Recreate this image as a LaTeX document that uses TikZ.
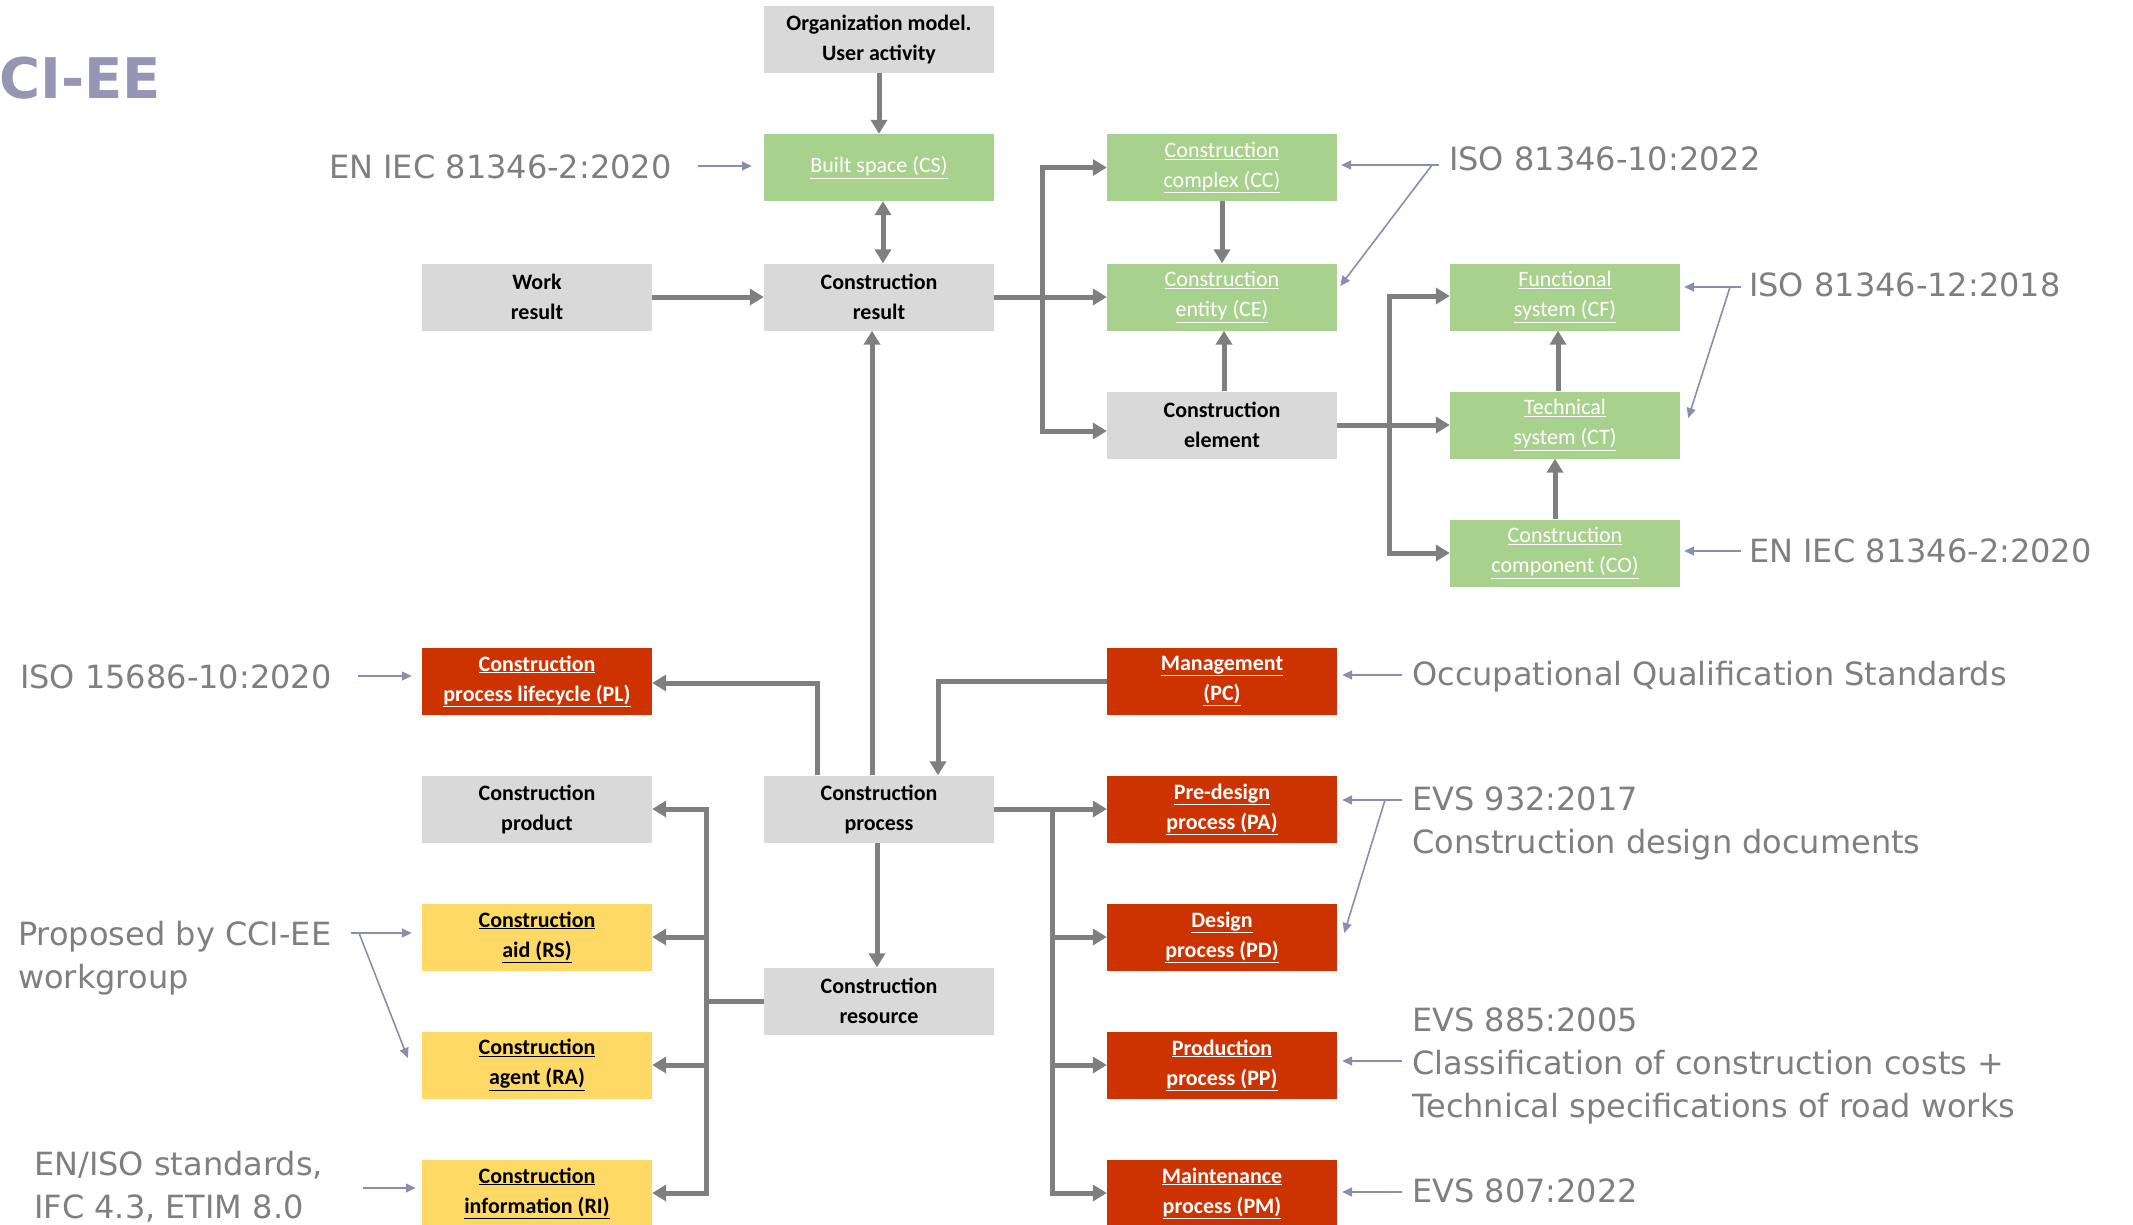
\documentclass[tikz,border=0pt]{standalone}
\usepackage{fontspec}
\setmainfont{DejaVu Sans}
\newfontfamily\boxfont{Carlito}
\usetikzlibrary{arrows.meta}
\definecolor{boxgray}{HTML}{D9D9D9}
\definecolor{boxgreen}{HTML}{A9D18E}
\definecolor{boxred}{HTML}{CC3300}
\definecolor{boxyellow}{HTML}{FFD966}
\definecolor{conngray}{HTML}{7F7F7F}
\definecolor{anncol}{HTML}{8B8DAE}
\definecolor{lblgray}{HTML}{7F7F7F}
\definecolor{titlecol}{HTML}{9496B4}
\tikzset{
  box/.style={minimum width=230pt, minimum height=67pt, inner sep=0pt, align=center},
  graybox/.style={box, fill=boxgray, text=black, font=\boxfont\bfseries\fontsize{22}{30}\selectfont},
  greenbox/.style={box, fill=boxgreen, text=white, font=\boxfont\fontsize{22}{30}\selectfont},
  redbox/.style={box, fill=boxred, text=white, font=\boxfont\bfseries\fontsize{22}{30}\selectfont},
  yellowbox/.style={box, fill=boxyellow, text=black, font=\boxfont\bfseries\fontsize{22}{30}\selectfont},
  conn/.style={draw=conngray, line width=5pt, -{Triangle[length=14pt,width=16pt]}},
  conntwo/.style={draw=conngray, line width=5pt, {Triangle[length=14pt,width=16pt]}-{Triangle[length=14pt,width=16pt]}},
  connplain/.style={draw=conngray, line width=5pt},
  ann/.style={draw=anncol, line width=1.6pt, -{Triangle[length=10pt,width=9pt]}},
  lbl/.style={font=\fontsize{32}{43}\selectfont, text=lblgray, inner sep=0pt, anchor=base west, text height=23pt, text depth=0pt}
}
\begin{document}
\begin{tikzpicture}[x=1pt,y=-1pt]
\useasboundingbox (0,0) rectangle (2133,1224);
\clip (0,0) rectangle (2133,1224);

% title (cut off at the left edge, as in the reference)
\node[font=\bfseries\fontsize{56}{56}\selectfont, text=titlecol, anchor=base east, inner sep=0pt] (title) at (161,98) {CCI-EE};

% boxes
\node[graybox] (orgm) at (879,39.5) {Organization model.\\User activity};
\node[greenbox] (bs) at (879,167.5) {\underline{Built space (CS)}};
\node[graybox] (wr) at (537,297) {Work\\result};
\node[graybox] (cr) at (879,297) {Construction\\result};
\node[greenbox] (cc) at (1222,167.5) {\underline{Construction}\\\underline{complex (CC)}};
\node[greenbox] (ce) at (1222,297) {\underline{Construction}\\\underline{entity (CE)}};
\node[graybox] (cel) at (1222,425) {Construction\\element};
\node[greenbox] (cf) at (1565,297) {\underline{Functional}\\\underline{system (CF)}};
\node[greenbox] (ct) at (1565,425) {\underline{Technical}\\\underline{system (CT)}};
\node[greenbox] (co) at (1565,553) {\underline{Construction}\\\underline{component (CO)}};
\node[redbox] (pl) at (537,681) {\underline{Construction}\\\underline{process lifecycle (PL)}};
\node[redbox] (pc) at (1222,681) {\underline{Management}\\\underline{(PC)}};
\node[graybox] (prod) at (537,809) {Construction\\product};
\node[graybox] (cp) at (879,809) {Construction\\process};
\node[redbox] (pa) at (1222,809) {\underline{Pre-design}\\\underline{process (PA)}};
\node[yellowbox] (rs) at (537,937) {\underline{Construction}\\\underline{aid (RS)}};
\node[graybox] (res) at (879,1001) {Construction\\resource};
\node[redbox] (pd) at (1222,937) {\underline{Design}\\\underline{process (PD)}};
\node[yellowbox] (ra) at (537,1065) {\underline{Construction}\\\underline{agent (RA)}};
\node[redbox] (pp) at (1222,1065) {\underline{Production}\\\underline{process (PP)}};
\node[yellowbox] (ri) at (537,1193) {\underline{Construction}\\\underline{information (RI)}};
\node[redbox] (pm) at (1222,1193) {\underline{Maintenance}\\\underline{process (PM)}};

% thick connectors
\draw[conn] (orgm) -- (bs);
\draw[conntwo] ([xshift=4pt]bs.south) -- ([xshift=4pt]cr.north);
\draw[conn] (wr) -- (cr);
\draw[conn] (cr) -- (ce);
\coordinate (b1) at (1042,297);
\draw[conntwo] (cc.west) -| (b1) |- ([yshift=-6pt]cel.west);
\draw[conn] (cc) -- (ce);
\draw[conn] ([xshift=2pt]cel.north) -- ([xshift=2pt]ce.south);
\draw[conn] (cel) -- (ct);
\coordinate (b2) at (1389,425);
\draw[conntwo] ([yshift=1pt]cf.west) -| (b2) |- (co.west);
\draw[conn] ([xshift=-7pt]ct.north) -- ([xshift=-7pt]cf.south);
\draw[conn] ([xshift=-10pt]co.north) -- ([xshift=-10pt]ct.south);
\draw[conn] ([xshift=-7pt]cp.north) -- ([xshift=-7pt]cr.south);
\draw[conn] ([xshift=-62pt]cp.north) |- ([yshift=-2pt]pl.east);
\draw[conn] (pc.west) -| ([xshift=59pt]cp.north);
\draw[conn] ([xshift=-2pt]cp.south) -- ([xshift=-2pt]res.north);
\draw[conn] (cp) -- (pa);
\coordinate (b3) at (1052,809);
\draw[conn] (b3) |- (pm.west);
\draw[conn] (b3 |- pd.west) -- (pd.west);
\draw[conn] (b3 |- pp.west) -- (pp.west);
\coordinate (b4) at (706,1001);
\draw[connplain] (res.west) -- (b4);
\draw[conn] (b4) |- (prod.east);
\draw[conn] (b4) |- (ri.east);
\draw[conn] (b4 |- rs.east) -- (rs.east);
\draw[conn] (b4 |- ra.east) -- (ra.east);

% labels
\node[lbl] (t1) at (329,178) {EN IEC 81346-2:2020};
\node[lbl] (t2) at (1449,170) {ISO 81346-10:2022};
\node[lbl] (t3) at (1749,296) {ISO 81346-12:2018};
\node[lbl] (t4) at (1749,562) {EN IEC 81346-2:2020};
\node[lbl] (t5) at (20,688) {ISO 15686-10:2020};
\node[lbl] (t6) at (1412,685) {Occupational Qualification Standards};
\node[lbl] (t7a) at (1412,810) {EVS 932:2017};
\node[lbl] (t7b) at (1412,853) {Construction design documents};
\node[lbl] (t8a) at (18,945) {Proposed by CCI-EE};
\node[lbl] (t8b) at (18,988) {workgroup};
\node[lbl] (t9a) at (1412,1031) {EVS 885:2005};
\node[lbl] (t9b) at (1412,1074) {Classification of construction costs +};
\node[lbl] (t9c) at (1412,1117) {Technical specifications of road works};
\node[lbl] (t10a) at (34,1175) {EN/ISO standards,};
\node[lbl] (t10b) at (34,1218) {IFC 4.3, ETIM 8.0};
\node[lbl] (t11) at (1412,1202) {EVS 807:2022};

% annotation arrows
\coordinate (a1) at (698,166);
\draw[ann, shorten >=12pt] (a1) -- (a1 -| bs.west);
\coordinate (a2) at (1439,165);
\coordinate (a2d) at (1432,165);
\draw[ann, shorten >=4pt] (a2) -- (a2 -| cc.east);
\draw[ann] (a2d) -- ([shift={(3pt,11pt)}]ce.east);
\coordinate (a3) at (1741,287);
\coordinate (a3d) at (1730,287);
\draw[ann, shorten >=4pt] (a3) -- (a3 -| cf.east);
\draw[ann] (a3d) -- ([shift={(8pt,7pt)}]ct.east);
\coordinate (a4) at (1741,551);
\draw[ann, shorten >=4pt] (a4) -- (a4 -| co.east);
\coordinate (a5) at (358,676);
\draw[ann, shorten >=10pt] (a5) -- (a5 -| pl.west);
\coordinate (a6) at (1402,675);
\draw[ann, shorten >=5pt] (a6) -- (a6 -| pc.east);
\coordinate (a7) at (1402,800);
\coordinate (a7d) at (1385,800);
\draw[ann, shorten >=5pt] (a7) -- (a7 -| pa.east);
\draw[ann] (a7d) -- ([shift={(7pt,4pt)}]pd.east);
\coordinate (a8) at (351,933);
\coordinate (a8d) at (359,933);
\draw[ann, shorten >=10pt] (a8) -- (a8 -| rs.west);
\draw[ann] (a8d) -- ([shift={(-14pt,7pt)}]ra.west);
\coordinate (a9) at (1402,1061);
\draw[ann, shorten >=5pt] (a9) -- (a9 -| pp.east);
\coordinate (a10) at (363,1188);
\draw[ann, shorten >=6pt] (a10) -- (a10 -| ri.west);
\coordinate (a11) at (1402,1192);
\draw[ann, shorten >=5pt] (a11) -- (a11 -| pm.east);
\end{tikzpicture}
\end{document}
